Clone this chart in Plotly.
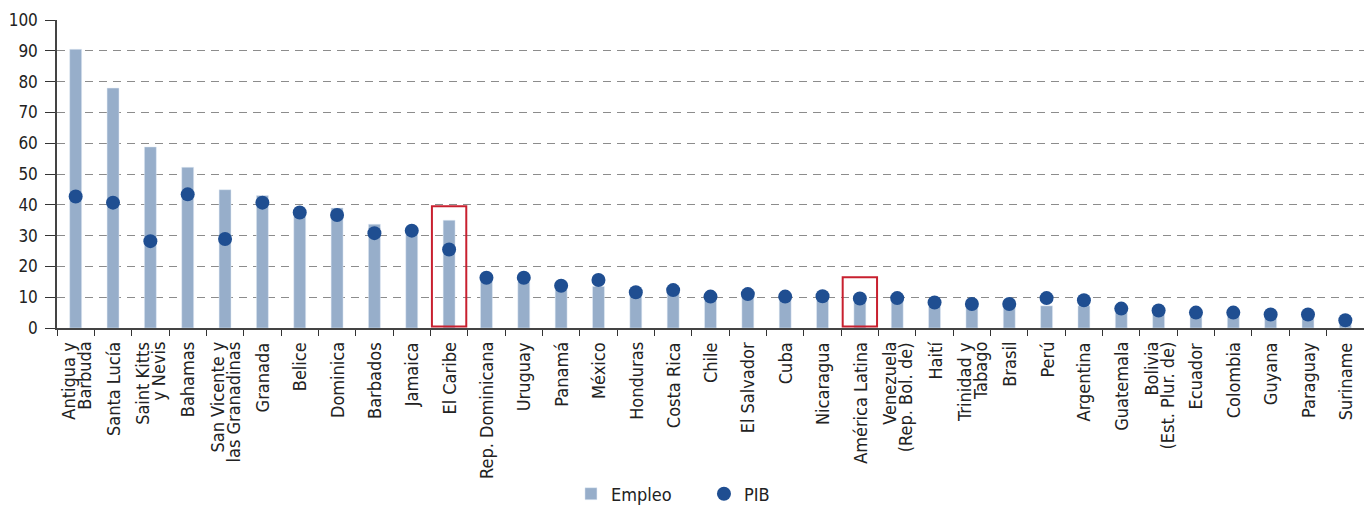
import plotly.graph_objects as go

categories = ["Antigua y Barbuda", "Santa Lucía", "Saint Kitts y Nevis", "Bahamas",
              "San Vicente y las Granadinas", "Granada", "Belice", "Dominica", "Barbados",
              "Jamaica", "El Caribe", "Rep. Dominicana", "Uruguay", "Panamá", "México",
              "Honduras", "Costa Rica", "Chile", "El Salvador", "Cuba", "Nicaragua",
              "América Latina", "Venezuela (Rep. Bol. de)", "Haití", "Trinidad y Tabago",
              "Brasil", "Perú", "Argentina", "Guatemala", "Bolivia (Est. Plur. de)",
              "Ecuador", "Colombia", "Guyana", "Paraguay", "Suriname"]

# tick label lines for each category (two-line labels are stacked tightly)
tick_labels = [["Antigua y", "Barbuda"], ["Santa Lucía"], ["Saint Kitts", "y Nevis"], ["Bahamas"],
               ["San Vicente y", "las Granadinas"], ["Granada"], ["Belice"], ["Dominica"],
               ["Barbados"], ["Jamaica"], ["El Caribe"], ["Rep. Dominicana"], ["Uruguay"],
               ["Panamá"], ["México"], ["Honduras"], ["Costa Rica"], ["Chile"], ["El Salvador"],
               ["Cuba"], ["Nicaragua"], ["América Latina"], ["Venezuela", "(Rep. Bol. de)"],
               ["Haití"], ["Trinidad y", "Tabago"], ["Brasil"], ["Perú"], ["Argentina"],
               ["Guatemala"], ["Bolivia", "(Est. Plur. de)"], ["Ecuador"], ["Colombia"],
               ["Guyana"], ["Paraguay"], ["Suriname"]]

empleo = [90.5, 77.9, 58.8, 52.2, 44.9, 43.0, 38.5, 39.0, 33.7, 31.0,
          35.0, 15.5, 15.0, 12.5, 13.5, 11.0, 11.5, 9.5, 10.0, 9.5,
          9.5, 8.5, 8.5, 7.0, 6.5, 6.5, 7.2, 7.2, 5.5, 5.0,
          4.5, 5.4, 3.5, 3.5, 1.5]

pib = [42.7, 40.7, 28.2, 43.4, 28.9, 40.7, 37.5, 36.7, 30.8, 31.6,
       25.5, 16.3, 16.3, 13.7, 15.6, 11.6, 12.3, 10.2, 11.0, 10.2,
       10.3, 9.6, 9.7, 8.3, 7.8, 7.8, 9.7, 9.0, 6.3, 5.7,
       5.0, 5.0, 4.4, 4.4, 2.5]

highlight = {"El Caribe": 39.5, "América Latina": 16.5}

FONT = "DejaVu Sans Condensed, Liberation Sans Narrow, Arial Narrow, sans-serif"
BAR_COLOR = "#97aeca"
DOT_COLOR = "#1f4e91"
TEXT_COLOR = "#222222"

fig = go.Figure()
fig.add_trace(go.Bar(x=categories, y=empleo, name="Empleo", marker_color=BAR_COLOR,
                     width=0.32))
fig.add_trace(go.Scatter(x=categories, y=pib, name="PIB", mode="markers",
                         marker=dict(color=DOT_COLOR, size=14)))

for name, top in highlight.items():
    i = categories.index(name)
    fig.add_shape(type="rect", xref="x", yref="y", x0=i - 0.46, x1=i + 0.46, y0=0.5, y1=top,
                  line=dict(color="#c8202f", width=2), fillcolor="rgba(0,0,0,0)")

# category labels, rotated, one annotation per line so lines sit close together
LINE_PITCH = 16
for cat, lines in zip(categories, tick_labels):
    n = len(lines)
    for k, line in enumerate(lines):
        fig.add_annotation(x=cat, y=0, xref="x", yref="y", text=line, showarrow=False,
                           textangle=-90, xanchor="center", yanchor="top",
                           xshift=(k - (n - 1) / 2) * LINE_PITCH, yshift=-13,
                           font=dict(family=FONT, size=18, color=TEXT_COLOR),
                           borderpad=0)

fig.update_layout(
    width=1356, height=498,
    margin=dict(l=49, r=0, t=12, b=178, autoexpand=False),
    plot_bgcolor="white", paper_bgcolor="white",
    font=dict(family=FONT, size=18, color=TEXT_COLOR),
    showlegend=True,
    legend=dict(orientation="h", x=0.495, xanchor="center", y=-0.539, yanchor="middle",
                font=dict(size=18), traceorder="normal",
                entrywidth=88, entrywidthmode="pixels"),
    bargap=0.68,
)
fig.update_xaxes(
    type="category", showticklabels=False,
    tickson="boundaries", ticks="outside", ticklen=6, tickcolor="#333333",
    showline=True, linecolor="#444444", linewidth=1.5, showgrid=False,
    range=[-0.5, len(categories) - 0.5], automargin=False,
)
fig.update_yaxes(
    range=[0, 100], dtick=10, ticks="outside", ticklen=10, tickcolor="#333333",
    showline=True, linecolor="#444444", linewidth=1.5,
    showgrid=True, gridcolor="#8c8c8c", gridwidth=1.3, griddash="8px,6px",
    zeroline=False, tickfont=dict(size=17), ticklabelstandoff=4, automargin=False,
)

fig.write_html("out.html")
